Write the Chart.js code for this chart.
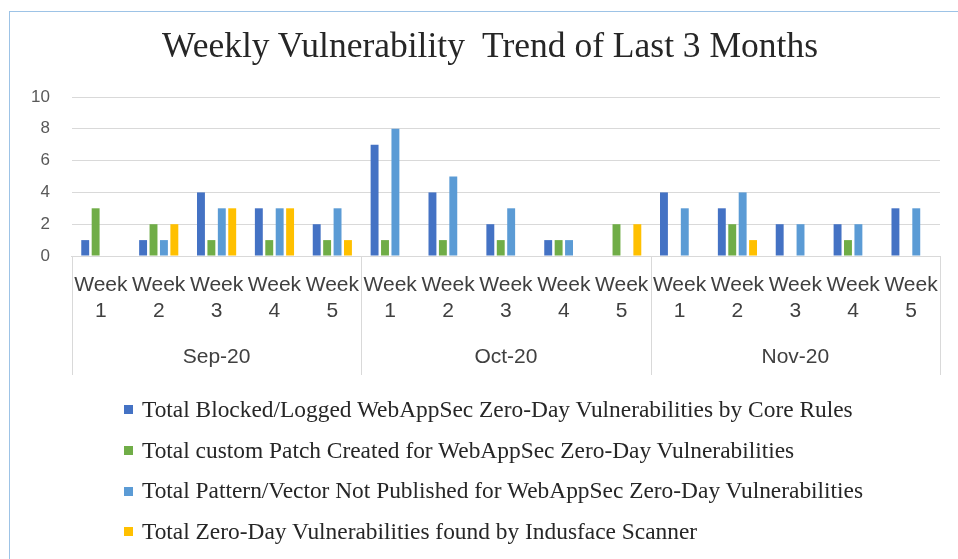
<!DOCTYPE html>
<html>
<head>
<meta charset="utf-8">
<script src="https://cdn.jsdelivr.net/npm/chart.js@4"></script>
<style>
  body { margin: 0; background: #fff; }
  #wrap { position: relative; width: 958px; height: 559px; overflow: hidden; }
  #frame { position: absolute; left: 9px; top: 11px; right: -5px; bottom: -5px;
           border-top: 1px solid #9dc3e6; border-left: 1px solid #9dc3e6; }
  #title { position: absolute; left: 162px; width: 600px; top: 23px; white-space: pre;
           font-family: 'Liberation Serif', 'Times New Roman', serif; font-size: 35.5px; line-height: 44px; color: #262626; }
  #legend { position: absolute; left: 124px; top: 389px; font-family: 'Liberation Serif', 'Times New Roman', serif;
            font-size: 23.4px; color: #262626; }
  #legend div { height: 40.7px; line-height: 40.7px; white-space: nowrap; }
  #legend span { display: inline-block; width: 9px; height: 9px; margin-right: 9px; vertical-align: middle; position: relative; top: -2px; }
</style>
</head>
<body>
<div id="wrap">
  <canvas id="chart" width="958" height="559"></canvas>
  <div id="frame"></div>
  <div id="title"></div>
  <div id="legend"></div>
</div>
<script>
const chartTitle = 'Weekly Vulnerability  Trend of Last 3 Months';

// categories
const months = ['Sep-20', 'Oct-20', 'Nov-20'];
const weeks = ['1', '2', '3', '4', '5'];

// series (Sep W1..W5, Oct W1..W5, Nov W1..W5)
const blockedCore = [1, 1, 4, 3, 2, 7, 4, 2, 1, 0, 4, 3, 2, 2, 3];
const customPatch = [3, 2, 1, 1, 1, 1, 1, 1, 1, 2, 0, 2, 0, 1, 0];
const notPublished = [0, 1, 3, 3, 3, 8, 5, 3, 1, 0, 3, 4, 2, 2, 3];
const scannerFound = [0, 2, 3, 3, 1, 0, 0, 0, 0, 2, 0, 1, 0, 0, 0];

const seriesNames = [
  'Total Blocked/Logged WebAppSec Zero-Day Vulnerabilities by Core Rules',
  'Total custom Patch Created for WebAppSec Zero-Day Vulnerabilities',
  'Total Pattern/Vector Not Published for WebAppSec Zero-Day Vulnerabilities',
  'Total Zero-Day Vulnerabilities found by Indusface Scanner'
];
const seriesColors = ['#4472C4', '#70AD47', '#5B9BD5', '#FFC000'];

// y axis
const yMax = 10;
const yStep = 2;

const labels = [];
months.forEach(() => weeks.forEach(w => labels.push(['Week', w])));

const axisFont = "'Liberation Sans', Arial, sans-serif";

// draws the month row and the box lines under the week labels
const monthRow = {
  id: 'monthRow',
  afterDraw(chart) {
    const ctx = chart.ctx;
    const x = chart.scales.x;
    const half = (x.getPixelForValue(1) - x.getPixelForValue(0)) / 2;
    const top = x.top;
    const bottom = x.bottom;
    ctx.save();
    ctx.strokeStyle = '#d9d9d9';
    ctx.lineWidth = 1;
    const n = weeks.length;
    for (let m = 0; m <= months.length; m++) {
      let px;
      if (m === 0) px = x.getPixelForValue(0) - half;
      else px = x.getPixelForValue(m * n - 1) + half;
      px = Math.round(px) + 0.5;
      ctx.beginPath();
      ctx.moveTo(px, top);
      ctx.lineTo(px, bottom);
      ctx.stroke();
    }
    ctx.fillStyle = '#404040';
    ctx.font = '21px ' + axisFont;
    ctx.textAlign = 'center';
    ctx.textBaseline = 'middle';
    months.forEach((mo, m) => {
      const c = (x.getPixelForValue(m * n) + x.getPixelForValue(m * n + n - 1)) / 2;
      ctx.fillText(mo, c, top + 101);
    });
    ctx.restore();
  }
};

const chart = new Chart(document.getElementById('chart'), {
  type: 'bar',
  data: {
    labels: labels,
    datasets: [blockedCore, customPatch, notPublished, scannerFound].map((d, i) => ({
      label: seriesNames[i],
      data: d,
      backgroundColor: seriesColors[i],
      categoryPercentage: 0.72,
      barPercentage: 0.76
    }))
  },
  options: {
    responsive: false,
    animation: false,
    layout: { padding: { left: 9, right: 18, top: 97, bottom: 184 } },
    plugins: {
      legend: { display: false },
      tooltip: { enabled: false },
      title: { display: false }
    },
    scales: {
      x: {
        grid: { display: false, drawTicks: false },
        border: { display: true, color: '#d9d9d9' },
        ticks: {
          color: '#404040',
          font: { family: axisFont, size: 21, lineHeight: 1.25 },
          padding: 16,
          maxRotation: 0,
          autoSkip: false
        },
        afterFit(scale) { scale.height = 119; }
      },
      y: {
        min: 0,
        max: yMax,
        ticks: {
          stepSize: yStep,
          color: '#595959',
          font: { family: axisFont, size: 17 },
          padding: 22
        },
        grid: { color: '#d9d9d9', drawTicks: false },
        border: { display: false }
      }
    }
  },
  plugins: [monthRow]
});

document.getElementById('title').textContent = chartTitle;

// legend rows built from the chart's datasets
const legend = document.getElementById('legend');
chart.data.datasets.forEach(ds => {
  const row = document.createElement('div');
  const box = document.createElement('span');
  box.style.background = ds.backgroundColor;
  row.appendChild(box);
  row.appendChild(document.createTextNode(ds.label));
  legend.appendChild(row);
});
</script>
</body>
</html>
